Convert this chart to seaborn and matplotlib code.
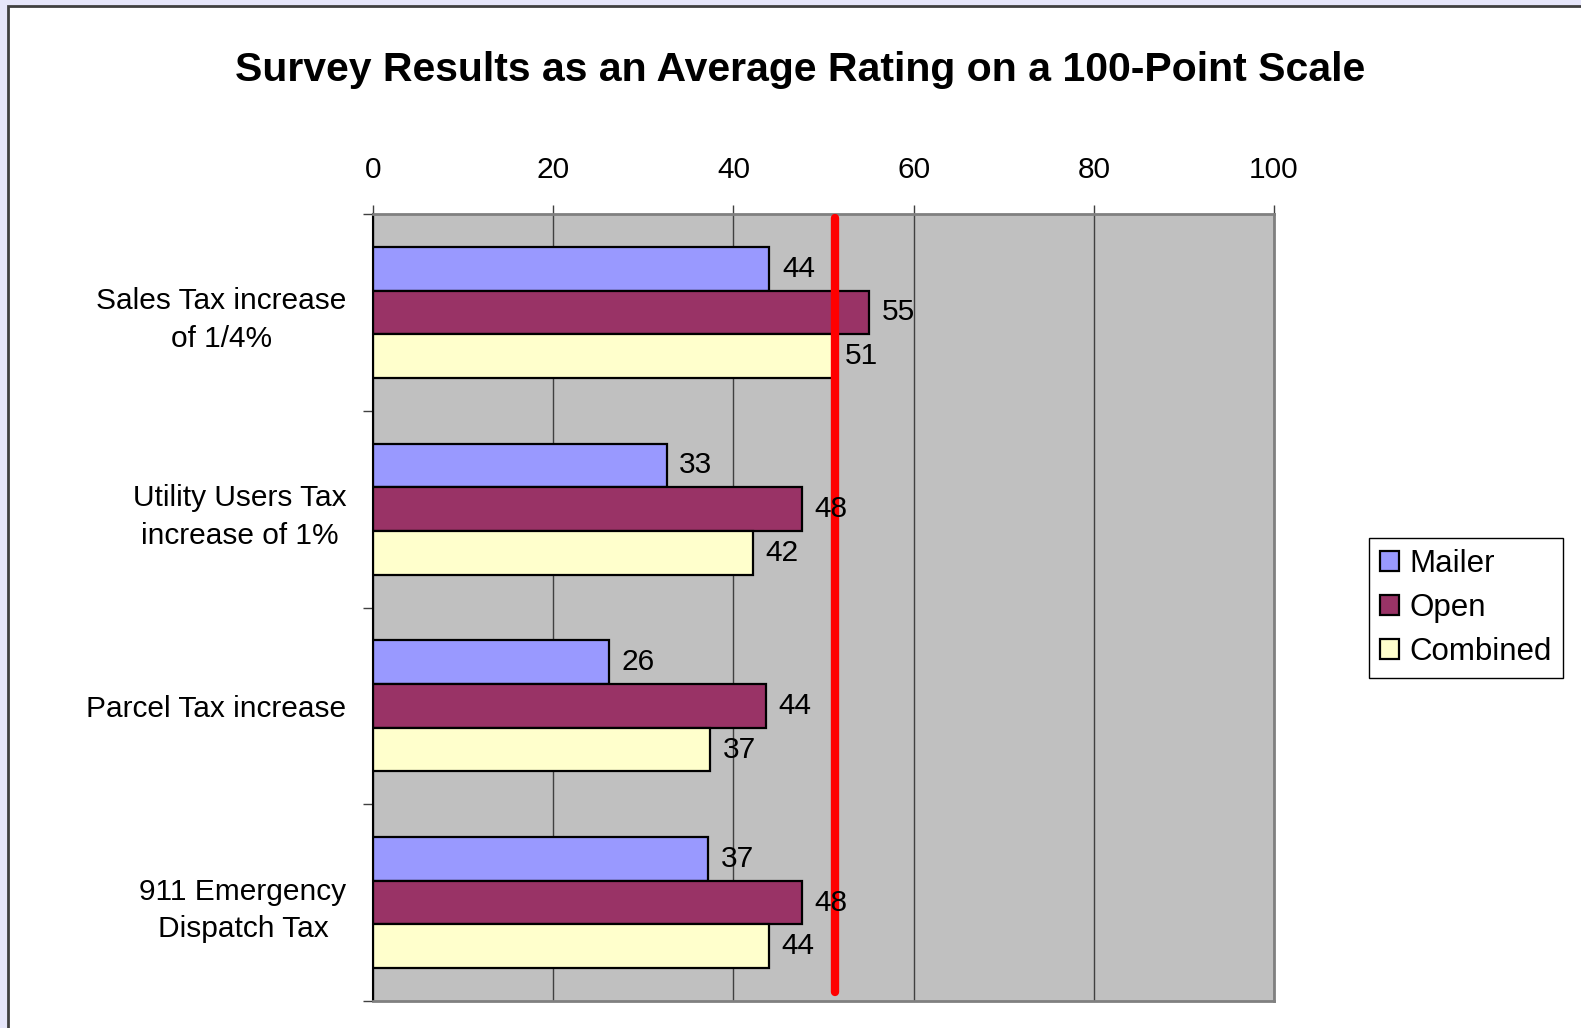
import numpy as np
import pandas as pd
import matplotlib
matplotlib.use("Agg")
import matplotlib.pyplot as plt
import seaborn as sns
from matplotlib.patches import Rectangle

# ----- data ----- #
categories = ["Sales Tax increase\nof 1/4%", "Utility Users Tax\nincrease of 1%",
              "Parcel Tax increase", "911 Emergency\nDispatch Tax"]
series = ["Mailer", "Open", "Combined"]
mailer = [44.0, 32.6, 26.2, 37.2]
open_vals = [55.1, 47.6, 43.6, 47.6]
combined = [51.0, 42.2, 37.4, 43.9]
threshold = 51.3
x_ticks = [0, 20, 40, 60, 80, 100]

colors = {"Mailer": "#9999FF", "Open": "#993366", "Combined": "#FFFFCC"}

df = pd.DataFrame({
    "category": categories * 3,
    "series": ["Mailer"] * 4 + ["Open"] * 4 + ["Combined"] * 4,
    "score": mailer + open_vals + combined,
})

sns.set_theme(style="white")
plt.rcParams["font.family"] = ["Liberation Sans", "DejaVu Sans"]
plt.rcParams["text.color"] = "black"
plt.rcParams["xtick.color"] = "black"
plt.rcParams["ytick.color"] = "black"

FS = 21.5

fig = plt.figure(figsize=(15.81, 10.28), dpi=100)
fig.patch.set_facecolor("#E6E6FA")
fig.patches.append(Rectangle((8 / 1581, -0.02), 1.1, 1 - 6 / 1028 + 0.02,
                             transform=fig.transFigure, facecolor="white",
                             edgecolor="#404040", linewidth=2, zorder=-5))

ax = fig.add_axes([373 / 1581, 1 - 1001 / 1028, (1274 - 373) / 1581, (1001 - 214) / 1028])
ax.set_facecolor("#C0C0C0")

sns.barplot(data=df, y="category", x="score", hue="series", hue_order=series,
            order=categories, palette=colors, orient="h", width=0.667, gap=0,
            edgecolor="black", linewidth=1.6, saturation=1, ax=ax, zorder=2)

for cont in ax.containers:
    ax.bar_label(cont, fmt="%.0f", padding=9, fontsize=FS, zorder=4)

ax.axvline(threshold, color="#FF0000", linewidth=6, zorder=3, ymax=0.995, ymin=0.012)

ax.set_xlim(0, 100)
ax.set_ylim(3.5, -0.5)
ax.xaxis.tick_top()
ax.set_xticks(x_ticks)
ax.tick_params(axis="x", which="major", top=True, bottom=False, length=6.5, width=1,
               color="#404040", pad=15, labelsize=FS, direction="out", labelcolor="black")
ax.set_yticks(np.arange(-0.5, 4, 1), minor=True)
ax.tick_params(axis="y", which="minor", left=True, length=7, width=1, color="#404040", direction="out")
ax.tick_params(axis="y", which="major", left=False, length=0, pad=19, labelsize=FS, labelcolor="black")
for lbl in ax.get_yticklabels():
    lbl.set_multialignment("center")
    lbl.set_linespacing(1.43)
ax.grid(axis="x", color="#404040", linewidth=1)
ax.set_axisbelow(True)
ax.set_xlabel("")
ax.set_ylabel("")

ax.spines["left"].set_color("black")
ax.spines["left"].set_linewidth(1.5)
for s in ["top", "right", "bottom"]:
    ax.spines[s].set_color("#808080")
    ax.spines[s].set_linewidth(2)
    ax.spines[s].set_visible(True)

handles, labels = ax.get_legend_handles_labels()
ax.legend(handles, labels, loc="center left", bbox_to_anchor=(1369 / 1581, 1 - 608 / 1028),
          bbox_transform=fig.transFigure, fontsize=FS + 1, frameon=True, fancybox=False,
          edgecolor="black", framealpha=1, facecolor="white", handlelength=0.6,
          handleheight=0.6, handletextpad=0.35, labelspacing=0.45, borderpad=0.35,
          borderaxespad=0)
ax.get_legend().get_frame().set_linewidth(1)

fig.text(0.506, 1 - 70 / 1028, "Survey Results as an Average Rating on a 100-Point Scale",
         ha="center", va="center", fontsize=29.5, fontweight="bold", color="black")

fig.savefig("out.png", dpi=100, facecolor=fig.get_facecolor())
